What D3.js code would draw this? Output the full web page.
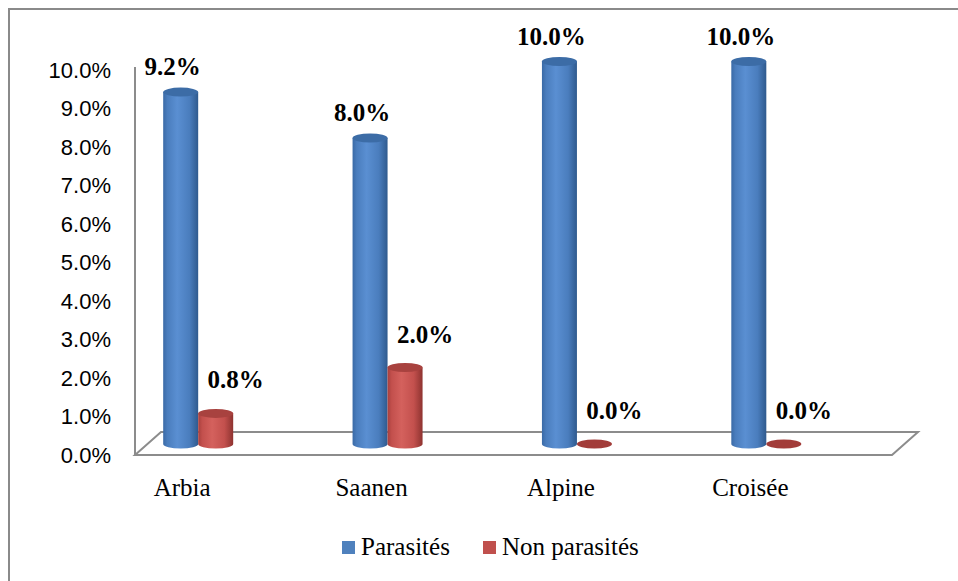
<!DOCTYPE html>
<html>
<head>
<meta charset="utf-8">
<script src="https://cdn.jsdelivr.net/npm/d3@7/dist/d3.min.js"></script>
<style>
  html, body { margin: 0; padding: 0; background: #fff; }
  svg { display: block; }
  .serif { font-family: "Liberation Serif", "Times New Roman", serif; }
</style>
</head>
<body>
<svg id="chart" width="958" height="581"></svg>
<script>
// ---- data ----
const categories = ["Arbia", "Saanen", "Alpine", "Croisée"];
const seriesNames = ["Parasités", "Non parasités"];
const parasites = [9.2, 8.0, 10.0, 10.0];
const nonParasites = [0.8, 2.0, 0.0, 0.0];
const tickValues = [0, 1, 2, 3, 4, 5, 6, 7, 8, 9, 10];
const seriesColors = ["#4F81BD", "#C0504D"];

const svg = d3.select("#chart");

// outer border (only top/left edges visible in the frame)
svg.append("rect").attr("x", 9).attr("y", 9).attr("width", 1000).attr("height", 1000)
  .attr("fill", "#fff").attr("stroke", "#8a8a8a").attr("stroke-width", 2);

// gradients
const defs = svg.append("defs");
function cylGrad(id, dark, mid, light, edge) {
  const g = defs.append("linearGradient").attr("id", id)
    .attr("x1", "0%").attr("x2", "100%").attr("y1", "0%").attr("y2", "0%");
  g.append("stop").attr("offset", "0%").attr("stop-color", dark);
  g.append("stop").attr("offset", "12%").attr("stop-color", mid);
  g.append("stop").attr("offset", "40%").attr("stop-color", light);
  g.append("stop").attr("offset", "75%").attr("stop-color", mid);
  g.append("stop").attr("offset", "100%").attr("stop-color", edge);
}
cylGrad("gBlue", "#3A6AA6", "#4A7DBD", "#5A8FD2", "#2F5A8E");
cylGrad("gRed", "#A8403D", "#C3504D", "#D4615D", "#8E3330");
const topColors = ["#3C6CA6", "#A8423F"];
const gradIds = ["url(#gBlue)", "url(#gRed)"];

// scales
const yTick = d3.scaleLinear().domain([0, 10]).range([455.5, 70]);
const yBar = d3.scaleLinear().domain([0, 10]).range([444, 61.5]);
const x0 = d3.scaleBand().domain(categories).range([103.5, 861]).padding(0);
const x1 = d3.scaleBand().domain(seriesNames).range([-35, 35]).padding(0);
const groupCenter = c => x0(c) + x0.bandwidth() / 2;

// floor
const floorFront = 455, floorBack = 432;
svg.append("path")
  .attr("d", `M135,${floorFront} L892,${floorFront} L918,${floorBack} L161,${floorBack} Z`)
  .attr("fill", "#fff").attr("stroke", "#8c8c8c").attr("stroke-width", 2);

// vertical axis line
svg.append("line").attr("x1", 135).attr("x2", 135).attr("y1", 67).attr("y2", floorFront)
  .attr("stroke", "#8c8c8c").attr("stroke-width", 2);

// tick labels via d3 axis
const axis = d3.axisLeft(yTick).tickValues(tickValues)
  .tickFormat(d => d.toFixed(1) + "%").tickSize(0).tickPadding(0);
const axG = svg.append("g").attr("transform", "translate(111,0)").call(axis);
axG.attr("font-family", null).attr("font-size", null);
axG.select(".domain").remove();
axG.selectAll("text")
  .style("font-family", "'Liberation Sans', Arial, sans-serif")
  .style("font-size", "22px").attr("fill", "#000");

// cylinders
const rx = 17.5, ry = 4.5;
const rows = [];
categories.forEach((c, i) => {
  rows.push({ cat: c, s: 0, v: parasites[i] });
  rows.push({ cat: c, s: 1, v: nonParasites[i] });
});

rows.forEach(d => {
  const cx = groupCenter(d.cat) + x1(seriesNames[d.s]) + x1.bandwidth() / 2;
  const yb = yBar(0), yt = yBar(d.v);
  const g = svg.append("g");
  if (d.v > 0) {
    g.append("path")
      .attr("d", `M${cx - rx},${yt} L${cx - rx},${yb} A${rx},${ry} 0 0 0 ${cx + rx},${yb} L${cx + rx},${yt} Z`)
      .attr("fill", gradIds[d.s]);
    g.append("ellipse").attr("cx", cx).attr("cy", yt).attr("rx", rx).attr("ry", ry)
      .attr("fill", topColors[d.s]);
  } else {
    g.append("ellipse").attr("cx", cx).attr("cy", yb).attr("rx", rx).attr("ry", ry)
      .attr("fill", "#A23C39");
  }
  // value label
  const dx = d.s === 0 ? -8 : 20;
  const dy = d.s === 0 ? -17 : -25;
  svg.append("text").attr("class", "serif")
    .attr("x", cx + dx).attr("y", yt + dy)
    .attr("text-anchor", "middle")
    .style("font-weight", "bold").style("font-size", "25px").attr("fill", "#000")
    .text(d.v.toFixed(1) + "%");
});

// category labels
svg.append("g").selectAll("text").data(categories).join("text")
  .attr("class", "serif")
  .attr("x", c => groupCenter(c) - 16).attr("y", 496)
  .attr("text-anchor", "middle")
  .style("font-size", "25px").attr("fill", "#000")
  .text(c => c);

// legend
const legendX = [342, 483];
const lg = svg.append("g");
seriesNames.forEach((s, i) => {
  lg.append("rect").attr("x", legendX[i]).attr("y", 541).attr("width", 13).attr("height", 13)
    .attr("fill", seriesColors[i]);
  lg.append("text").attr("class", "serif").attr("x", legendX[i] + 19).attr("y", 555)
    .style("font-size", "25px").attr("fill", "#000").text(s);
});
</script>
</body>
</html>
